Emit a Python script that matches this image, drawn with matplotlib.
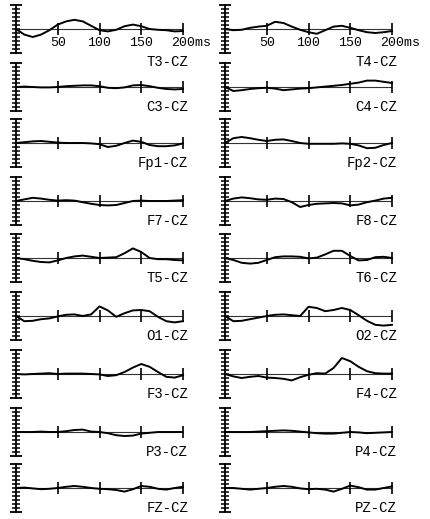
import matplotlib
matplotlib.use('Agg')

import matplotlib.pyplot as plt
import numpy as np

# time axis (ms), sampled every 10 ms
t = np.arange(0, 201, 10)

left_names = ['T3-CZ', 'C3-CZ', 'Fp1-CZ', 'F7-CZ', 'T5-CZ', 'O1-CZ', 'F3-CZ', 'P3-CZ', 'FZ-CZ']
right_names = ['T4-CZ', 'C4-CZ', 'Fp2-CZ', 'F8-CZ', 'T6-CZ', 'O2-CZ', 'F4-CZ', 'P4-CZ', 'PZ-CZ']

T3 = [0, -1.4, -2.0, -1.4, -0.3, 1.1, 1.9, 2.3, 1.9, 0.8, -0.3, -0.6, -0.2, 0.7, 1.1, 0.7, 0, -0.2, -0.3, -0.6, -0.5]
C3 = [0, 0.1, 0, -0.1, -0.1, 0, 0.2, 0.3, 0.4, 0.4, 0.2, -0.2, -0.3, -0.1, 0.4, 0.5, 0.2, -0.2, -0.5, -0.6, -0.5]
Fp1 = [0, 0.2, 0.4, 0.5, 0.3, 0.1, 0, 0, 0, -0.1, -0.3, -1.0, -0.7, 0, 0.6, 0.3, -0.5, -0.8, -0.8, -0.6, -0.1]
F7 = [0, 0.4, 0.8, 0.6, 0.3, 0.1, 0.2, 0.1, -0.3, -0.7, -1.0, -1.1, -1.0, -0.5, 0, 0.1, 0, 0, 0, 0.1, 0.2]
T5 = [0, -0.3, -0.7, -1.0, -1.1, -0.6, 0, 0.4, 0.6, 0.3, 0, 0.1, 0.2, 1.2, 2.4, 1.5, 0, -0.3, -0.3, -0.5, -0.6]
O1 = [0, -1.3, -1.2, -0.8, -0.6, -0.1, 0.3, 0.4, 0, 0.4, 2.4, 1.4, -0.2, 0.7, 1.4, 1.5, 1.2, -0.2, -1.3, -1.6, -1.3]
F3 = [0, -0.1, 0, 0.1, 0.2, 0, 0.1, 0.1, 0.1, 0, -0.1, -0.5, -0.3, 0.5, 1.6, 2.5, 1.8, 0.5, -0.7, -0.9, -0.3]
P3 = [0, 0, 0, 0.1, 0, 0, 0.2, 0.5, 0.6, 0.1, 0, -0.3, -0.8, -1.0, -0.9, -0.4, -0.2, 0, 0, 0, 0]
FZ = [0, 0.1, -0.1, -0.3, -0.2, 0, 0.3, 0.5, 0.3, 0, -0.2, -0.3, -0.5, -0.9, -0.3, 0.5, 0.3, -0.2, -0.4, 0, 0.3]

T4 = [0, -0.3, -0.2, 0.3, 0.6, 0.8, 1.8, 1.5, 0.6, -0.2, -0.8, -1.2, -0.3, 0.6, 0.8, 0.3, -0.3, -0.8, -1.0, -0.8, -0.5]
C4 = [0, -1.0, -0.8, -0.5, -0.3, -0.2, -0.4, -0.8, -0.6, -0.4, -0.3, -0.1, 0.1, 0.3, 0.5, 0.8, 1.1, 1.6, 1.6, 1.3, 1.0]
Fp2 = [0, 1.2, 1.5, 1.2, 0.8, 0.5, 0.8, 0.9, 0.5, 0, -0.2, -0.2, -0.2, -0.2, -0.1, -0.2, -0.6, -1.3, -1.2, -0.5, 0]
F8 = [0, 0.6, 0.9, 0.7, 0.4, 0.3, 0.6, 0.5, -0.3, -1.5, -1.0, -0.7, -0.6, -0.5, -0.6, -1.1, -0.9, -0.3, 0.1, 0.6, 0.8]
T6 = [0, -0.5, -1.2, -1.4, -1.2, -0.5, 0.2, 0.4, 0.4, 0.3, -0.1, 0.1, 0.9, 1.8, 1.8, 0.5, -0.6, -0.5, 0.2, 0.3, 0]
O2 = [0, -1.3, -1.2, -0.8, -0.4, 0, 0.3, 0.4, 0.2, 0, 2.3, 2.0, 1.2, 1.5, 2.0, 1.5, 0.2, -1.2, -2.2, -2.4, -2.2]
F4 = [0, -0.6, -1.0, -0.7, -0.5, -0.9, -1.0, -1.2, -1.6, -0.8, -0.2, 0.2, 0.1, 1.5, 4.0, 3.2, 1.8, 0.7, 0.2, 0.1, 0.1]
P4 = [0, 0, 0, 0, 0.1, 0.2, 0.3, 0.4, 0.3, 0.1, -0.1, -0.3, -0.4, -0.4, -0.2, 0, -0.1, -0.3, -0.2, -0.1, 0]
PZ = [0, 0, -0.2, -0.4, -0.2, 0, 0.3, 0.5, 0.3, -0.1, -0.3, -0.2, -0.4, -0.9, -0.2, 0.6, 0.2, -0.4, -0.4, 0, 0.4]

left_data = [T3, C3, Fp1, F7, T5, O1, F3, P3, FZ]
right_data = [T4, C4, Fp2, F8, T6, O2, F4, P4, PZ]

W, H = 430, 519
baselines = [29, 87, 143, 201, 258, 316, 374, 432, 488]
col_x = [16, 225]
panel_w = 167
half_h = 24  # px from baseline to end of vertical scale

mono = 'Liberation Mono'

fig = plt.figure(figsize=(W / 100, H / 100), dpi=100)

for col, (names, datas) in enumerate([(left_names, left_data), (right_names, right_data)]):
    for row in range(9):
        y0 = baselines[row]
        ax = fig.add_axes([col_x[col] / W, (H - y0 - half_h) / H, panel_w / W, 2 * half_h / H])
        ax.set_xlim(0, 200)
        ax.set_ylim(-6, 6)
        ax.patch.set_visible(False)

        ax.axhline(0, color='#333333', lw=0.8, zorder=1)
        ax.plot(t, datas[row], color='black', lw=1.4, zorder=2, clip_on=False)

        for s in ['top', 'right']:
            ax.spines[s].set_visible(False)
        ax.spines['left'].set_linewidth(1.3)
        ax.spines['bottom'].set_position(('data', 0))
        ax.spines['bottom'].set_visible(False)

        ax.set_yticks([-6, 6])
        ax.set_yticks(np.arange(-5, 6), minor=True)
        ax.tick_params(axis='y', which='major', direction='inout', length=8, width=1.3, labelleft=False)
        ax.tick_params(axis='y', which='minor', direction='inout', length=6, width=1.1)

        ax.set_xticks([50, 100, 150, 200])
        ax.tick_params(axis='x', direction='inout', length=8, width=1.2, labelbottom=False)

        if row == 0:
            for v in [50, 100, 150]:
                ax.text(v, -3.6, str(v), ha='center', va='center', family=mono, fontsize=9.5)
            ax.text(186, -3.6, '200ms', ha='left', va='center', family=mono, fontsize=9.5)
            ly = -8.3
        else:
            ly = -5.0
        ax.text(206, ly, names[row], ha='right', va='center', family=mono, fontsize=10, clip_on=False)

plt.savefig('out.png', dpi=100)
